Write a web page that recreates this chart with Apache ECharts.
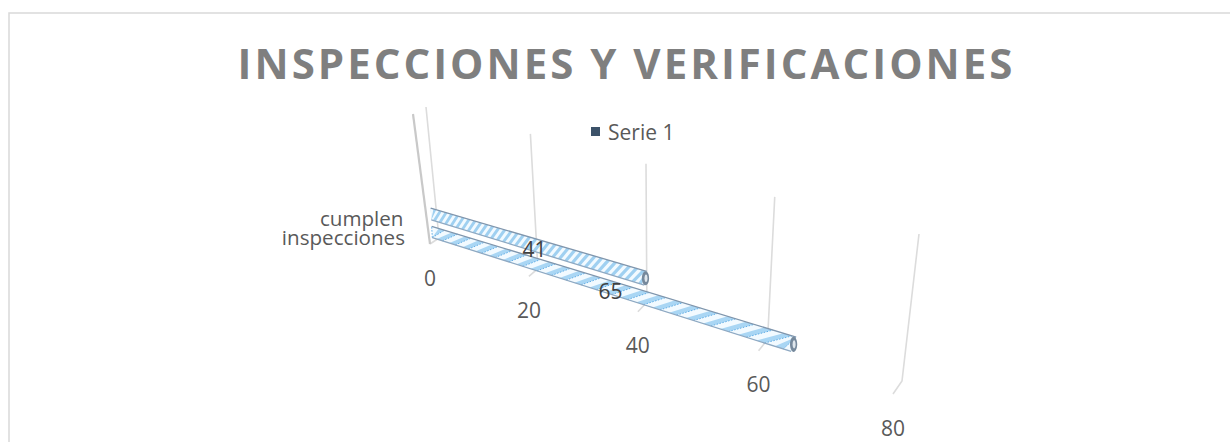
<!DOCTYPE html>
<html><head><meta charset="utf-8">
<style>
html,body{margin:0;padding:0;background:#fff}
#c{width:1230px;height:442px}
#c svg text[style*="42px"]{letter-spacing:3.0px}
</style>
<script src="https://cdn.jsdelivr.net/npm/echarts@6/dist/echarts.min.js"></script>
</head><body><div id="c"></div>
<script>
const titleText = 'INSPECCIONES Y VERIFICACIONES';
const seriesName = 'Serie 1';
const categories = ['cumplen', 'inspecciones'];
const serie1 = [41, 65];
const tickValues = [0, 20, 40, 60, 80];

const stripeStep = [1.2, 2.8];
const labelAt = [0.515, 0.545];
const W = 1230, H = 442;
function homography(q) {
  const [[x0,y0],[x1,y1],[x2,y2],[x3,y3]] = q;
  const dx1=x1-x2, dx2=x3-x2, sx=x0-x1+x2-x3, dy1=y1-y2, dy2=y3-y2, sy=y0-y1+y2-y3;
  const det=dx1*dy2-dx2*dy1, g=(sx*dy2-dx2*sy)/det, h=(dx1*sy-sx*dy1)/det;
  const a=x1-x0+g*x1, b=x3-x0+h*x3, d=y1-y0+g*y1, e=y3-y0+h*y3;
  return (u,v)=>{const w=g*u+h*v+1; return [(a*u+b*v+x0)/w,(d*u+e*v+y0)/w];};
}
const wallH = homography([[426,107],[919,234],[902,381],[439,238]]);
const warp = u => u/(u+(1-u)*1.035);
const wall = (u,v)=>wallH(warp(u),v);
const front = (u)=>{const b=wall(u,1); return [b[0]-9, b[1]+6+7*u];};
const barPlane = homography([[431,214],[912,358],[902,378],[432,232]]);
const lineSt = {stroke:'#dcdcdc', lineWidth:1.6, fill:null};

function renderTick(params, api){
  const val = api.value(0);
  const u = api.coord([val,0])[0]/W;
  const f = front(u);
  const kids = [
    {type:'polyline', shape:{points:[wall(u,0),wall(u,1),f]}, style:lineSt}
  ];
  kids.push({type:'text', style:{text:String(val), x:f[0], y:f[1]+33.5, align:'center', verticalAlign:'middle',
    font:'21px "Open Sans"', fill:'#595959'}});
  if(val===0){
    kids.push({type:'line', shape:{x1:413,y1:114,x2:f[0],y2:f[1]}, style:{stroke:'#c9c9c9', lineWidth:2.2}});
  }
  return {type:'group', children:kids};
}
function renderBar(params, api){
  const val = api.value(0), idx = api.value(1);
  const c = api.coord([val, idx]), c0 = api.coord([0, idx]);
  const uEnd = c[0]/W, u0 = c0[0]/W, vc = (c[1]/H-.25)*2;
  const hwAt = u => .32*(1+.2*u);
  const T = u => barPlane(u, vc-hwAt(u)), B = u => barPlane(u, vc+hwAt(u));
  const kids=[];
  const body=[];
  const n=40;
  for(let i=0;i<=n;i++) body.push(T(u0+(uEnd-u0)*i/n));
  for(let i=n;i>=0;i--) body.push(B(u0+(uEnd-u0)*i/n));
  kids.push({type:'polygon', shape:{points:body}, style:{fill:idx===0?'#9fd0f1':'#a9d6f4'}});
  const step = stripeStep[idx]/80, sw = step*(idx===0?.5:.55), skew = step*(idx===0?1.2:1.2);
  for(let t=u0-skew; t<uEnd; t+=step){
    const a=Math.max(t,u0), b=Math.min(t+sw,uEnd), a2=Math.min(Math.max(t+skew,u0),uEnd), b2=Math.min(t+skew+sw,uEnd);
    if(b<=a && b2<=a2) continue;
    kids.push({type:'polygon', shape:{points:[B(a),B(Math.max(b,a)),T(Math.max(b2,a2)),T(a2)]},
      style:{fill:'#f2faff'}});
    if(idx===1){
      const p=B(a), q=T(a2);
      kids.push({type:'line', shape:{x1:p[0],y1:p[1],x2:q[0],y2:q[1]},
        style:{stroke:'#62aee6',lineWidth:1,lineDash:[1.5,1.5]}});
    }
  }
  const top=T(u0), topE=T(uEnd), bot=B(u0), botE=B(uEnd);
  kids.push({type:'line', shape:{x1:top[0],y1:top[1],x2:topE[0],y2:topE[1]}, style:{stroke:'#8096ad',lineWidth:1.3}});
  kids.push({type:'line', shape:{x1:bot[0],y1:bot[1],x2:botE[0],y2:botE[1]}, style:{stroke:'#8fa9c2',lineWidth:1.3}});
  const e=barPlane(uEnd,vc), ry=Math.hypot(topE[0]-botE[0],topE[1]-botE[1])/2;
  kids.push({type:'ellipse', shape:{cx:e[0],cy:e[1],rx:3.6,ry:ry}, style:{fill:'#76899c'}});
  kids.push({type:'ellipse', shape:{cx:e[0]+.5,cy:e[1],rx:1.5,ry:ry*.55}, style:{fill:'#dfe6ec'}});
  const m=barPlane(u0+(uEnd-u0)*labelAt[idx],vc);
  kids.push({type:'text', z2:10, style:{text:String(val), x:m[0], y:m[1]+4, align:'center', verticalAlign:'middle',
    font:'21px "Open Sans"', fill:'#404040'}});
  return {type:'group', children:kids};
}
const chart = echarts.init(document.getElementById('c'), null, {renderer:'svg'});
chart.setOption({
  animation:false,
  backgroundColor:'#fff',
  title:{text:titleText, left:621.5, top:36, textAlign:'center',
    textStyle:{fontFamily:'Open Sans', fontWeight:'bold', fontSize:42, color:'#7f7f7f'}},
  legend:{data:[{name:seriesName, icon:'rect'}], left:586, top:116, itemWidth:9, itemHeight:9,
    textStyle:{fontFamily:'Open Sans', fontSize:21, color:'#595959', padding:[0,0,0,3]}, selectedMode:false},
  grid:{left:0, right:0, top:0, bottom:0, containLabel:false},
  xAxis:{type:'value', min:0, max:80, interval:20, show:false},
  yAxis:[{type:'value', min:0, max:1, show:false},
         {type:'category', data:categories, inverse:true, show:false}],
  graphic:[{type:'rect', z:-1, shape:{x:9,y:13,width:1300,height:460}, style:{fill:null, stroke:'#d9d9d9', lineWidth:1.5}},
    {type:'text', style:{text:categories[0], x:403.5, y:218, align:'right', verticalAlign:'middle', font:'20.6px "Open Sans"', fill:'#595959'}},
    {type:'text', style:{text:categories[1], x:405, y:236.5, align:'right', verticalAlign:'middle', font:'20.6px "Open Sans"', fill:'#595959'}}],
  series:[
    {type:'custom', name:'ticks', yAxisIndex:0, data:tickValues.map(v=>[v,0]), renderItem:renderTick, clip:false, z:1, silent:true},
    {type:'custom', name:seriesName, yAxisIndex:1, itemStyle:{color:'#3c5269'},
      data:serie1.map((v,i)=>[v,i]), encode:{x:0,y:1}, renderItem:renderBar, clip:false, z:2}
  ]
});
</script></body></html>
